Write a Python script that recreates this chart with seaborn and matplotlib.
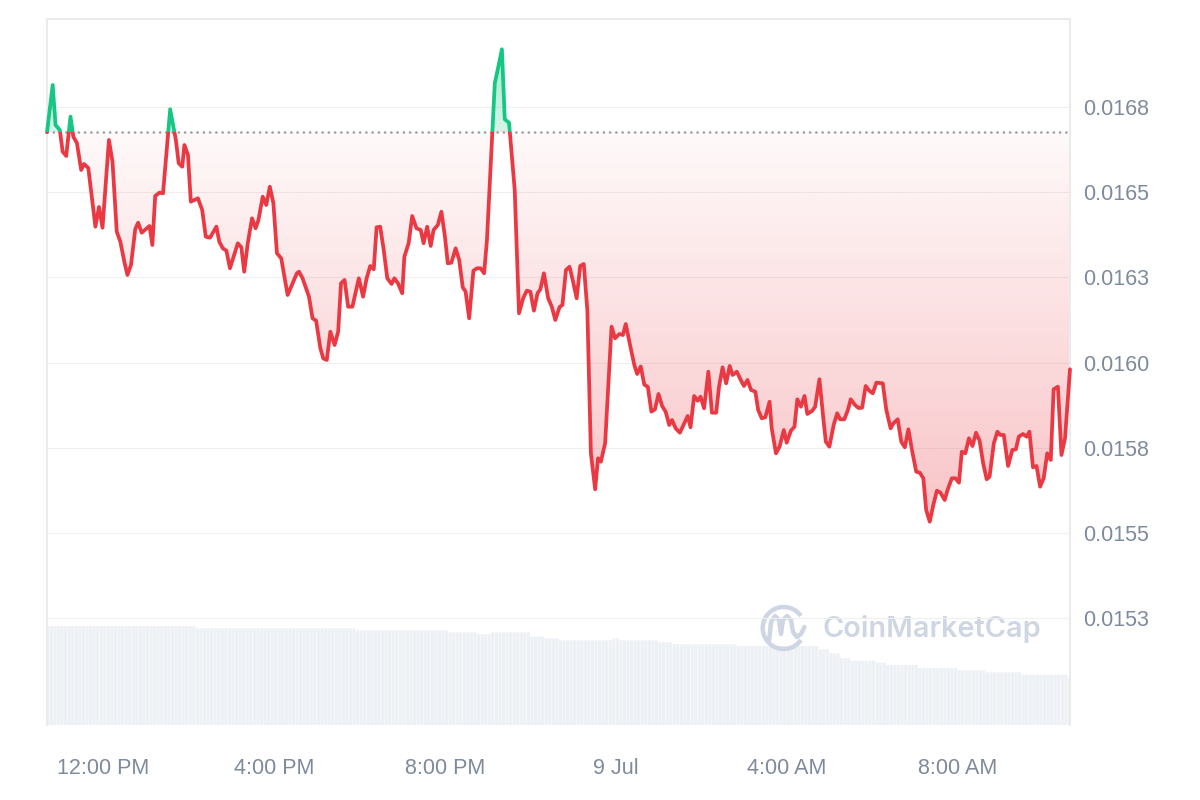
import numpy as np
import pandas as pd
import matplotlib
matplotlib.use("Agg")
import matplotlib.pyplot as plt
import matplotlib.dates as mdates
import seaborn as sns
from matplotlib.patches import Rectangle, PathPatch, Arc
from matplotlib.colors import to_rgb

plt.rcParams['font.family'] = ['Liberation Sans', 'DejaVu Sans']

# ---------------- data ----------------
times_hm = [
    "10:41", "10:49", "10:53", "10:59", "11:03", "11:08", "11:14", "11:18", "11:23", "11:29",
    "11:33", "11:39", "11:49", "11:54", "11:59", "12:08", "12:13", "12:19", "12:24", "12:30",
    "12:34", "12:39", "12:45", "12:49", "12:54", "13:05", "13:09", "13:13", "13:19", "13:24",
    "13:34", "13:42", "13:46", "13:51", "13:54", "13:59", "14:03", "14:13", "14:19", "14:24",
    "14:30", "14:39", "14:43", "14:48", "14:53", "14:58", "15:09", "15:14", "15:18", "15:23",
    "15:29", "15:34", "15:38", "15:44", "15:49", "15:54", "15:59", "16:04", "16:10", "16:19",
    "16:25", "16:32", "16:35", "16:40", "16:49", "16:54", "16:59", "17:05", "17:09", "17:14",
    "17:19", "17:25", "17:30", "17:34", "17:39", "17:44", "17:50", "17:59", "18:05", "18:10",
    "18:15", "18:20", "18:24", "18:29", "18:34", "18:39", "18:45", "18:49", "18:54", "19:00",
    "19:03", "19:09", "19:14", "19:20", "19:26", "19:30", "19:35", "19:40", "19:44", "19:50",
    "19:55", "20:00", "20:04", "20:09", "20:15", "20:20", "20:25", "20:29", "20:34", "20:40",
    "20:45", "20:50", "20:55", "20:59", "21:10", "21:15", "21:20", "21:24", "21:30", "21:38",
    "21:44", "21:50", "21:55", "22:00", "22:05", "22:10", "22:14", "22:19", "22:25", "22:30",
    "22:35", "22:41", "22:45", "22:50", "22:55", "23:00", "23:05", "23:10", "23:15", "23:20",
    "23:25", "23:31", "23:35", "23:39", "23:45", "23:54", "23:59", "00:05", "00:10", "00:14",
    "00:20", "00:26", "00:30", "00:35", "00:40", "00:45", "00:50", "00:55", "01:00", "01:05",
    "01:10", "01:15", "01:19", "01:24", "01:30", "01:35", "01:41", "01:45", "01:50", "01:55",
    "01:59", "02:04", "02:10", "02:15", "02:21", "02:25", "02:30", "02:35", "02:40", "02:44",
    "02:50", "02:55", "03:00", "03:05", "03:10", "03:16", "03:20", "03:25", "03:30", "03:36",
    "03:39", "03:45", "03:50", "03:56", "04:00", "04:06", "04:11", "04:15", "04:20", "04:25",
    "04:29", "04:36", "04:40", "04:46", "04:51", "04:55", "05:00", "05:06", "05:11", "05:15",
    "05:21", "05:26", "05:30", "05:36", "05:41", "05:46", "05:51", "05:56", "06:01", "06:06",
    "06:15", "06:20", "06:26", "06:30", "06:36", "06:41", "06:46", "06:51", "06:56", "07:02",
    "07:07", "07:12", "07:16", "07:21", "07:26", "07:31", "07:36", "07:42", "07:46", "07:52",
    "07:57", "08:02", "08:06", "08:11", "08:16", "08:21", "08:26", "08:31", "08:36", "08:41",
    "08:45", "08:51", "08:56", "09:00", "09:05", "09:11", "09:17", "09:22", "09:26", "09:32",
    "09:37", "09:41", "09:46", "09:51", "09:56", "10:01", "10:06", "10:11", "10:15", "10:21",
    "10:26", "10:31", "10:38",
]

prices = [
    0.0166750, 0.0168136, 0.0166963, 0.0166817, 0.0166181, 0.0166055, 0.0167207, 0.0166620, 0.0166436, 0.0165644,
    0.0165820, 0.0165703, 0.0163982, 0.0164559, 0.0163952, 0.0166524, 0.0165887, 0.0163835, 0.0163542, 0.0162917,
    0.0162566, 0.0162859, 0.0163914, 0.0164099, 0.0163806, 0.0164002, 0.0163445, 0.0164882, 0.0164979, 0.0164961,
    0.0167424, 0.0166524, 0.0165841, 0.0165741, 0.0166377, 0.0166084, 0.0164715, 0.0164814, 0.0164471, 0.0163689,
    0.0163659, 0.0163982, 0.0163542, 0.0163348, 0.0163278, 0.0162762, 0.0163495, 0.0163378, 0.0162662, 0.0163495,
    0.0164228, 0.0163935, 0.0164178, 0.0164861, 0.0164618, 0.0165154, 0.0164668, 0.0163202, 0.0163055, 0.0161979,
    0.0162272, 0.0162615, 0.0162662, 0.0162469, 0.0161929, 0.0161296, 0.0161226, 0.0160417, 0.0160123, 0.0160073,
    0.0160903, 0.0160513, 0.0160903, 0.0162322, 0.0162419, 0.0161636, 0.0161636, 0.0162469, 0.0161929, 0.0162469,
    0.0162829, 0.0162733, 0.0163964, 0.0163982, 0.0163299, 0.0162469, 0.0162302, 0.0162469, 0.0162322, 0.0162029,
    0.0163102, 0.0163495, 0.0164295, 0.0163935, 0.0163885, 0.0163495, 0.0163982, 0.0163416, 0.0163885, 0.0164032,
    0.0164422, 0.0163689, 0.0162909, 0.0162926, 0.0163348, 0.0163005, 0.0162205, 0.0162076, 0.0161296, 0.0162692,
    0.0162762, 0.0162762, 0.0162615, 0.0163592, 0.0168186, 0.0168673, 0.0169183, 0.0167131, 0.0167031, 0.0165058,
    0.0161443, 0.0161891, 0.0162105, 0.0162076, 0.0161519, 0.0162029, 0.0162146, 0.0162615, 0.0161882, 0.0161642,
    0.0161246, 0.0161627, 0.0161686, 0.0162712, 0.0162809, 0.0162369, 0.0161882, 0.0162829, 0.0162888, 0.0161539,
    0.0157338, 0.0156283, 0.0157191, 0.0157092, 0.0157631, 0.0161050, 0.0160710, 0.0160836, 0.0160806, 0.0161129,
    0.0160513, 0.0159927, 0.0159663, 0.0159883, 0.0159355, 0.0159282, 0.0158558, 0.0158628, 0.0159077, 0.0158725,
    0.0158558, 0.0158168, 0.0158314, 0.0158071, 0.0157942, 0.0158168, 0.0158432, 0.0158100, 0.0159018, 0.0158880,
    0.0158997, 0.0158657, 0.0159730, 0.0158528, 0.0158528, 0.0159291, 0.0159859, 0.0159390, 0.0159898, 0.0159634,
    0.0159730, 0.0159508, 0.0159311, 0.0159487, 0.0159194, 0.0159144, 0.0158608, 0.0158364, 0.0158393, 0.0158851,
    0.0158071, 0.0157338, 0.0157532, 0.0158021, 0.0157649, 0.0158001, 0.0158118, 0.0158921, 0.0158704, 0.0159018,
    0.0158490, 0.0158587, 0.0158704, 0.0159508, 0.0158461, 0.0157678, 0.0157532, 0.0158168, 0.0158511, 0.0158335,
    0.0158335, 0.0158608, 0.0158921, 0.0158754, 0.0158666, 0.0158675, 0.0159311, 0.0159173, 0.0159097, 0.0159408,
    0.0159390, 0.0158608, 0.0158071, 0.0158218, 0.0158335, 0.0157678, 0.0157514, 0.0158042, 0.0157435, 0.0156799,
    0.0156769, 0.0156605, 0.0155676, 0.0155333, 0.0155822, 0.0156241, 0.0156183, 0.0155969, 0.0156262, 0.0156605,
    0.0156605, 0.0156476, 0.0157385, 0.0157338, 0.0157778, 0.0157552, 0.0157942, 0.0157707, 0.0157045, 0.0156576,
    0.0156652, 0.0157631, 0.0157971, 0.0157875, 0.0157875, 0.0156966, 0.0157435, 0.0157455, 0.0157825, 0.0157904,
    0.0157825, 0.0157971, 0.0156927, 0.0156966, 0.0156359, 0.0156605, 0.0157338, 0.0157142, 0.0159214, 0.0159291,
    0.0157288, 0.0157778, 0.0159801,
]

# rolling volume (relative units), as steps: start time of each level
vol_seg_start = [
    "2024-07-08 10:40", "2024-07-08 14:10", "2024-07-08 17:55", "2024-07-08 20:05", "2024-07-08 20:45",
    "2024-07-08 21:05", "2024-07-08 22:00", "2024-07-08 22:20", "2024-07-08 22:40", "2024-07-08 23:55",
    "2024-07-09 00:05", "2024-07-09 01:00", "2024-07-09 01:20", "2024-07-09 02:50", "2024-07-09 04:45",
    "2024-07-09 05:00", "2024-07-09 05:15", "2024-07-09 05:30", "2024-07-09 06:05", "2024-07-09 06:20",
    "2024-07-09 07:05", "2024-07-09 08:00", "2024-07-09 08:40", "2024-07-09 09:30", "2024-07-09 10:35",
]
vol_levels = [9.90, 9.67, 9.47, 9.27, 9.07, 9.27, 8.85, 8.67, 8.47, 8.63,
              8.47, 8.27, 8.07, 7.90, 7.57, 7.17, 6.67, 6.43, 6.23, 6.00,
              5.70, 5.47, 5.27, 5.03, 4.67]

xtick_times = ["2024-07-08 12:00", "2024-07-08 16:00", "2024-07-08 20:00",
               "2024-07-09 00:00", "2024-07-09 04:00", "2024-07-09 08:00"]
xtick_labels = ["12:00 PM", "4:00 PM", "8:00 PM", "9 Jul", "4:00 AM", "8:00 AM"]
ytick_values = [0.01525, 0.0155, 0.01575, 0.0160, 0.01625, 0.0165, 0.01675]
ytick_labels = ["0.0153", "0.0155", "0.0158", "0.0160", "0.0163", "0.0165", "0.0168"]

assert len(times_hm) == len(prices)

# ---------------- prepare ----------------
day0 = pd.Timestamp("2024-07-08")
stamps, day, prev = [], 0, -1
for hm in times_hm:
    h, m = map(int, hm.split(":"))
    mins = h * 60 + m
    if mins < prev:
        day += 1
    prev = mins
    stamps.append(day0 + pd.Timedelta(days=day, minutes=mins))
t = mdates.date2num(pd.DatetimeIndex(stamps).values)
p = np.array(prices)
base = p[0]

seg_t = mdates.date2num(pd.to_datetime(vol_seg_start).values)
bar_step = 5.0 / 1440.0
bar_t = np.arange(seg_t[0], seg_t[-1] + bar_step / 2, bar_step)
bar_v = np.array(vol_levels)[np.searchsorted(seg_t, bar_t + 1e-9, side="right") - 1]

RED = "#ea3943"
GREEN = "#16c784"
LABEL = "#808a9d"

# ---------------- figure ----------------
fig = plt.figure(figsize=(12, 8), dpi=100)
ax = fig.add_axes([47 / 1200, 75 / 800, 1023 / 1200, 706 / 800])
ax2 = ax.twinx()
ax.set_zorder(ax2.get_zorder() + 1)
ax.patch.set_visible(False)

# volume bars
bars = ax2.bar(bar_t, bar_v, width=bar_step * 0.88, align="edge", color="#edf0f4", linewidth=0)
for b in bars:
    b.set_snap(False)
ax2.set_ylim(0, 70.6)
ax2.set_yticks([])
for s in ax2.spines.values():
    s.set_visible(False)

ymin, ymax = 0.0149372, 0.0170071

# gradient fills clipped to the area between line and baseline
coll = ax.fill_between(t, p, base, facecolor="none", edgecolor="none", linewidth=0)
clip_patch = PathPatch(coll.get_paths()[0], transform=ax.transData, facecolor="none", edgecolor="none")

n = 256
red_img = np.zeros((n, 2, 4))
red_img[..., :3] = to_rgb(RED)
red_img[..., 3] = np.linspace(0.03, 0.30, n)[:, None]
im_r = ax.imshow(red_img, extent=[t[0], t[-1], p.min(), base], origin="upper",
                 aspect="auto", zorder=1, interpolation="bilinear")
im_r.set_clip_path(clip_patch)

green_img = np.zeros((n, 2, 4))
green_img[..., :3] = to_rgb(GREEN)
green_img[..., 3] = np.linspace(0.38, 0.18, n)[:, None]
im_g = ax.imshow(green_img, extent=[t[0], t[-1], base, p.max()], origin="upper",
                 aspect="auto", zorder=1, interpolation="bilinear")
im_g.set_clip_path(clip_patch)

# baseline (opening price)
ax.axhline(base, color="#9b9b9b", lw=1.8, ls=(0, (0.1, 2.4)), dash_capstyle="round", zorder=2)

# price line: red below baseline, green above
width_t = (t[-1] - t[0]) + 2
below = Rectangle((t[0] - 1, 0), width_t, base, transform=ax.transData)
above = Rectangle((t[0] - 1, base), width_t, 1.0, transform=ax.transData)
sns.lineplot(x=t, y=p, ax=ax, color=RED, linewidth=2.7, estimator=None, sort=False, zorder=3)
ln_r = ax.lines[-1]
ln_r.set_clip_path(below)
sns.lineplot(x=t, y=p, ax=ax, color=GREEN, linewidth=2.7, estimator=None, sort=False, zorder=3)
ln_g = ax.lines[-1]
ln_g.set_clip_path(above)
for ln in (ln_r, ln_g):
    ln.set_solid_joinstyle("round")
    ln.set_solid_capstyle("round")

ax.set_xlim(t[0], t[-1])
ax.set_ylim(ymin, ymax)
ax.set_xlabel("")
ax.set_ylabel("")

# ticks
ax.set_xticks(mdates.date2num(pd.to_datetime(xtick_times).values))
ax.set_xticklabels(xtick_labels)
ax.yaxis.tick_right()
ax.set_yticks(ytick_values)
ax.set_yticklabels(ytick_labels)
ax.tick_params(axis="x", length=0, pad=24, labelsize=15.5, labelcolor=LABEL)
ax.tick_params(axis="y", length=0, pad=9.5, labelsize=15.5, labelcolor=LABEL,
               labelright=True, labelleft=False)

ax.grid(axis="y", color="#efefef", lw=0.8)
ax.grid(axis="x", visible=False)
ax.set_axisbelow(True)

for side in ("top", "left", "right"):
    ax.spines[side].set_color("#ebebeb")
    ax.spines[side].set_linewidth(1.5)
ax.spines["bottom"].set_visible(False)

# watermark
ov = fig.add_axes([0, 0, 1, 1])
ov.set_xlim(0, 1200)
ov.set_ylim(800, 0)
ov.axis("off")
WM = "#cfd6e3"
ov.add_patch(Arc((783.7, 628), 42, 42, theta1=35, theta2=325, color=WM, lw=3.2))
mx = [769, 771, 775, 779, 781, 783, 787, 791, 793, 797, 801, 804.5]
my = [641, 622, 616, 620, 634, 620, 616, 620, 632, 637, 634, 627]
ov.plot(mx, my, color=WM, lw=3.2, solid_joinstyle="round", solid_capstyle="round")
ov.text(822, 637, "CoinMarketCap", color=WM, fontsize=20.8, fontweight="semibold",
        family=["Inter", "DejaVu Sans"], ha="left", va="baseline")

fig.savefig("out.png", dpi=100)
